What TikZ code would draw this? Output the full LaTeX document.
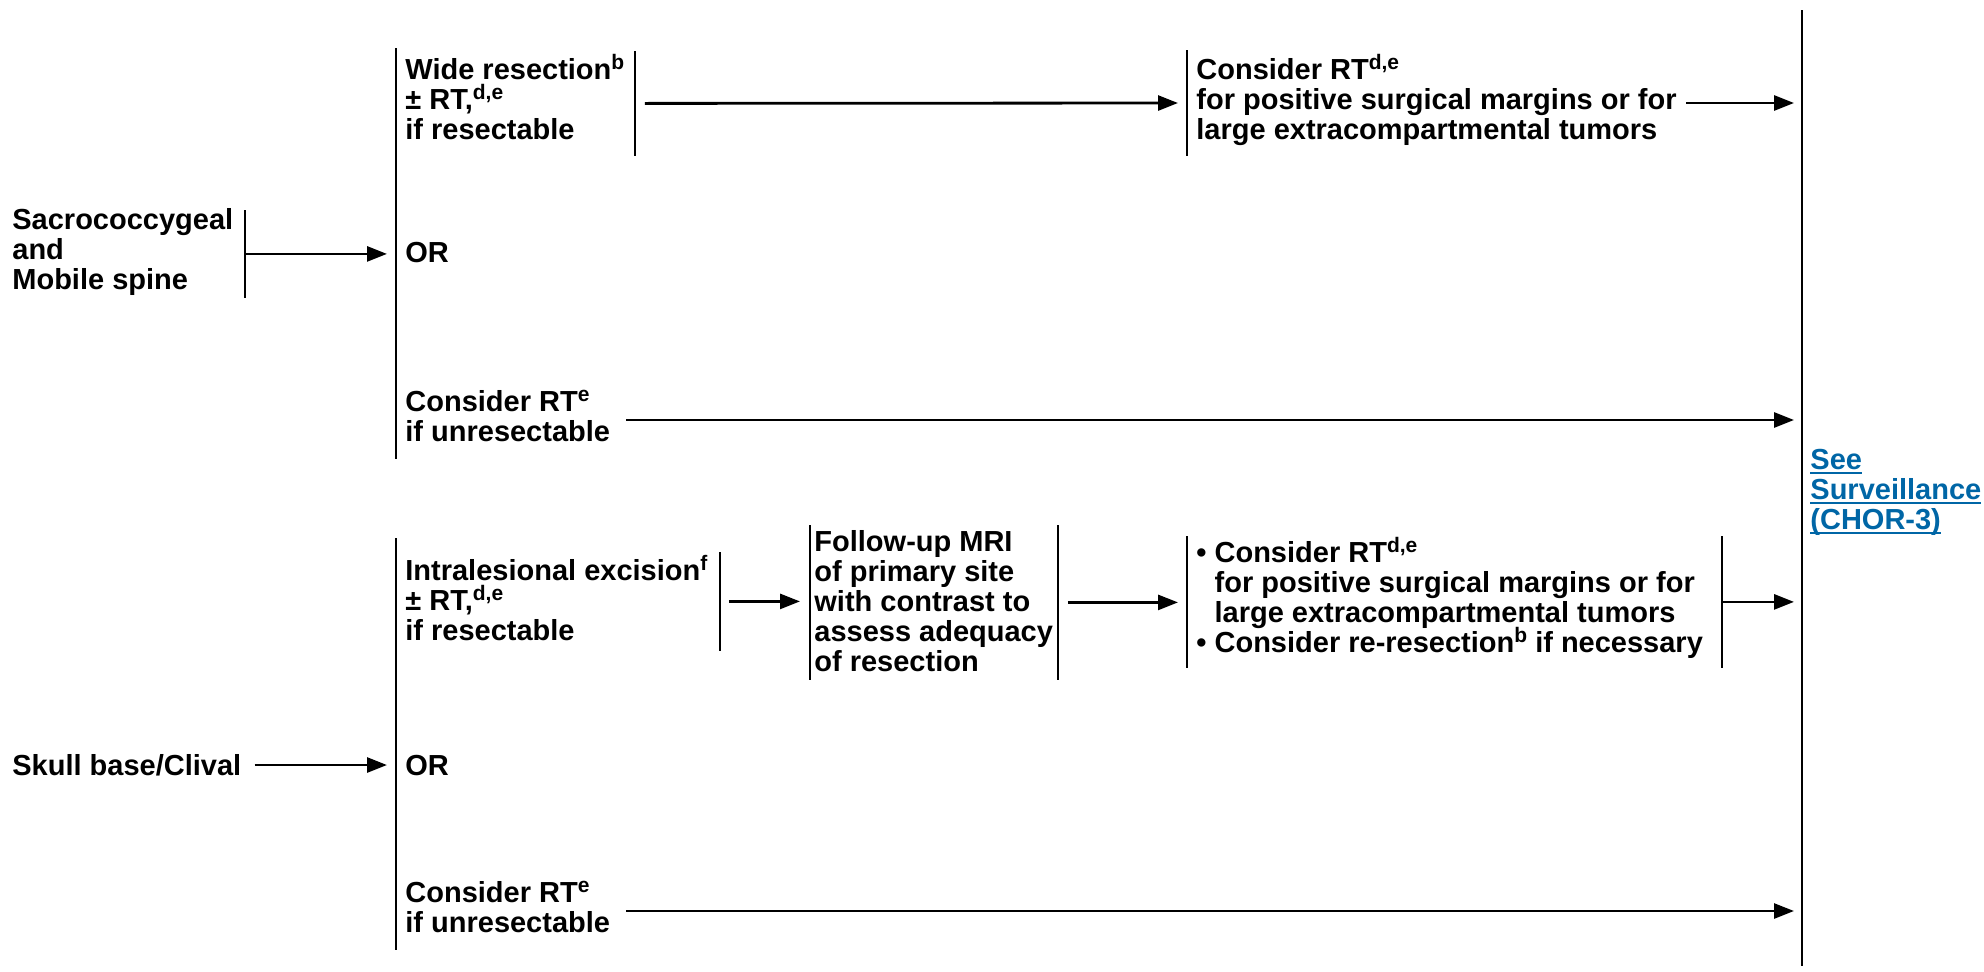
\documentclass[tikz,border=0pt]{standalone}
\usepackage{fontspec}
\setmainfont{Liberation Sans}
\usetikzlibrary{arrows.meta}
\definecolor{linkblue}{RGB}{0,102,166}
\newcommand{\fs}{\fontsize{14.5}{15}\selectfont\bfseries}
\newcommand{\sps}[1]{\raisebox{5pt}[0pt][0pt]{\fontsize{10.5}{10.5}\selectfont #1}}
\newcommand{\lines}[1]{\begin{tabular}{@{}l@{}}#1\end{tabular}}
\newcommand{\fixbox}[2]{\makebox[#1][l]{\lines{#2}}}
\newcommand{\dropink}[1]{\raisebox{-1.5pt}[\height][\depth]{#1}}
\newcommand{\uln}[1]{\setbox0=\hbox{#1}\rlap{\rule[-2.6pt]{\wd0}{1.1pt}}\box0}
\begin{document}
\begin{tikzpicture}[x=0.5pt,y=-0.5pt,
  txt/.style={font=\fs, inner ysep=0pt, inner xsep=4.5pt},
  barline/.style={line width=1.25pt},
  arr/.style={line width=1.4pt,-{Triangle[length=10pt,width=7.5pt]}},
]
\useasboundingbox (0,0) rectangle (1984,971);

% ---------- top group ----------
\node[txt, anchor=north west, inner xsep=0pt, inner ysep=-0.75pt] (sacro) at (12,210)
  {\fixbox{116pt}{Sacrococcygeal\\and\\Mobile spine}};
\node[txt, anchor=west] (or1) at (396,253) {OR};
\node[txt, anchor=north west, minimum height=52pt] (wide) at (396,51)
  {\fixbox{110pt}{Wide resection\sps{b}\\± RT,\sps{d,e}\\if resectable}};
\node[txt, anchor=west, minimum height=52.5pt] (cons1) at (1187,103)
  {\lines{Consider RT\sps{d,e}\\for positive surgical margins or for\\large extracompartmental tumors}};
\node[txt, anchor=west] (unres1) at (396,420)
  {\lines{Consider RT\sps{e}\\if unresectable}};

% ---------- bottom group ----------
\node[txt, anchor=north west, minimum height=49pt] (intral) at (396,552)
  {\dropink{\fixbox{152.5pt}{Intralesional excision\sps{f}\\± RT,\sps{d,e}\\if resectable}}};
\node[txt, anchor=north west, inner xsep=2pt, minimum height=77pt] (follow) at (810,525)
  {\dropink{\fixbox{119.5pt}{Follow-up MRI\\of primary site\\with contrast to\\assess adequacy\\of resection}}};
\node[txt, anchor=north west, minimum height=65.5pt] (bullets) at (1187,536)
  {\fixbox{258pt}{• Consider RT\sps{d,e}\\\phantom{• }for positive surgical margins or for\\\phantom{• }large extracompartmental tumors\\• Consider re-resection\sps{b} if necessary}};
\node[txt, anchor=west, inner xsep=0pt] (skull) at (12,765) {Skull base/Clival};
\node[txt, anchor=west] (or2) at (396,765) {OR};
\node[txt, anchor=west] (unres2) at (396,911)
  {\lines{Consider RT\sps{e}\\if unresectable}};

% ---------- right ----------
\node[txt, anchor=west, inner xsep=4pt, text=linkblue] (surv) at (1802,493)
  {\lines{\uln{See}\\\uln{Surveillance}\\\uln{(CHOR-3)}}};

% ---------- long bars ----------
\coordinate (g1top) at (396,48);  \coordinate (g1bot) at (396,459);
\coordinate (g2top) at (396,538); \coordinate (g2bot) at (396,950);
\coordinate (rtop) at (1802,10);  \coordinate (rbot) at (1802,966);
\draw[barline] (g1top) -- (g1bot);
\draw[barline] (g2top) -- (g2bot);
\draw[line width=1.4pt] (rtop) -- (rbot);

% ---------- box bars ----------
\draw[barline] (sacro.north east) -- (sacro.south east);
\draw[barline] (wide.north east) -- (wide.south east);
\draw[barline] (cons1.north west) -- (cons1.south west);
\draw[barline] (intral.north east) -- (intral.south east);
\draw[barline] (follow.north west) -- (follow.south west);
\draw[barline] (follow.north east) -- (follow.south east);
\draw[barline] (bullets.north west) -- (bullets.south west);
\draw[barline] (bullets.north east) -- (bullets.south east);

% ---------- connectors ----------
\draw[arr, shorten >=4.5pt] (sacro.east) -- (sacro.east -| or1.west);
\draw[arr, shorten <=5pt, shorten >=4.5pt] (wide.east) -- (cons1.west);
\draw[arr, shorten >=4pt] (cons1.east) -- (cons1.east -| rtop);
\draw[arr, shorten <=3.5pt, shorten >=4pt] (unres1.east) -- (unres1.east -| rtop);
\draw[arr, shorten <=4.5pt, shorten >=5pt] (intral.east) -- (intral.east -| follow.west);
\draw[arr, shorten <=5pt, shorten >=4.5pt] (follow.east) -- (follow.east -| bullets.west);
\draw[arr, shorten >=4pt] (bullets.east) -- (bullets.east -| rtop);
\draw[arr, shorten <=6.5pt, shorten >=4.5pt] (skull.east) -- (or2.west);
\draw[arr, shorten <=3.5pt, shorten >=4pt] (unres2.east) -- (unres2.east -| rtop);
\end{tikzpicture}
\end{document}
